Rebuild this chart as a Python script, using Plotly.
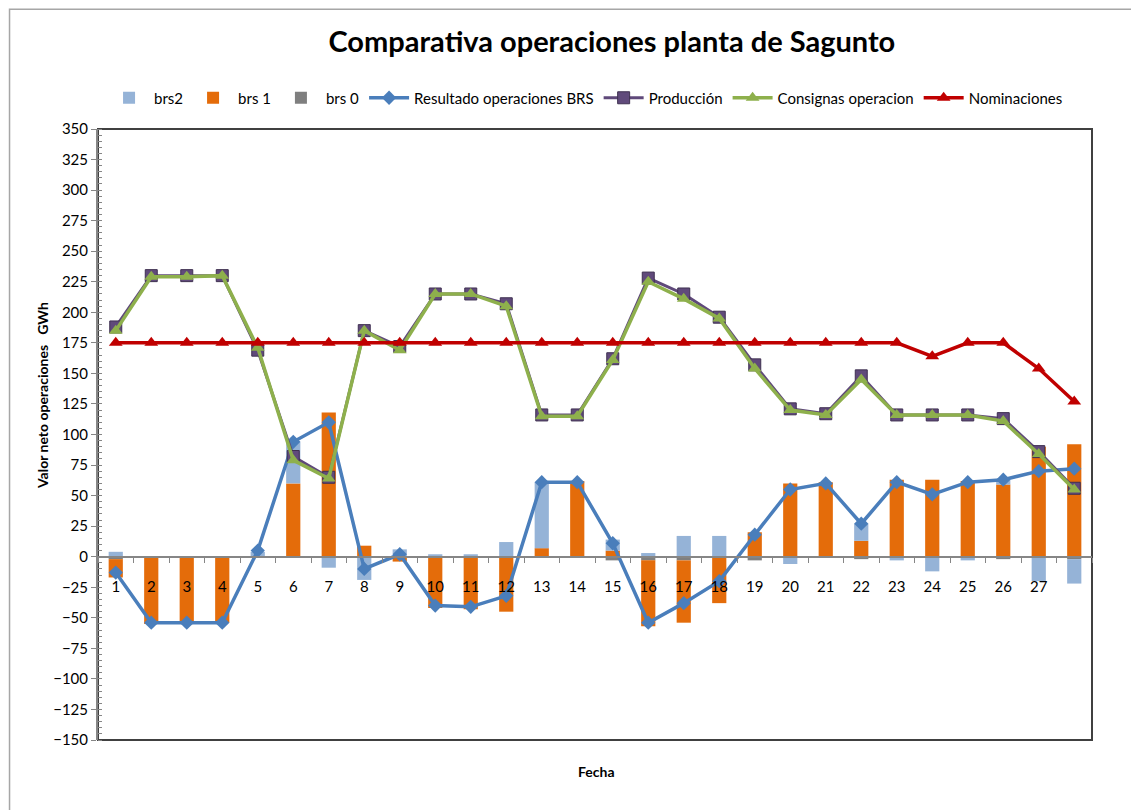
import plotly.graph_objects as go

# ─── Data ─────────────────────────────────────────────────────────────────────

cats = list(range(1, 29))
tick_labels = [str(i) for i in range(1, 28)] + [""]

brs2 = [4, 0, 0, 0, 4, 34, -9, -19, 6, 2, 2, 12, 54, -1, 9, 3, 17, 17, 0, -6,
        -1, 14, -3, -12, -3, 4, -20, -20]
brs1 = [-15, -55, -54, -54, 0, 60, 118, 9, -4, -42, -43, -44, 7, 62, 5, -54, -51, -38,
        20, 60, 61, 13, 63, 63, 62, 59, 90, 92]
brs0 = [-2, 0, 0, 0, 0, -1, 0, 0, 0, 0, 0, -1, 0, 0, -3, -3, -3, 0, -3, 0,
        0, -2, 0, 0, 0, -2, 0, -2]

resultado = [-13, -54, -54, -54, 5, 94, 110, -10, 2, -40, -41, -32, 61, 61, 11, -54, -38, -20,
             18, 55, 60, 27, 61, 51, 61, 63, 70, 72]
produccion = [188, 230, 230, 230, 169, 82, 65, 185, 172, 215, 215, 207, 116, 116, 162, 228, 215, 196,
              157, 121, 117, 148, 116, 116, 116, 113, 86, 56]
consignas = [185, 229, 229, 230, 171, 79, 64, 185, 169, 215, 215, 205, 115, 115, 161, 225, 211, 195,
             154, 120, 116, 145, 116, 116, 116, 111, 84, 55]
nominaciones = [175, 175, 175, 175, 175, 175, 175, 175, 175, 175, 175, 175, 175, 175, 175, 175, 175, 175,
                175, 175, 175, 175, 175, 164, 175, 175, 154, 127]

# ─── Style ────────────────────────────────────────────────────────────────────

FONT = "Lato, 'Liberation Sans', sans-serif"
AXIS_GREY = "#868686"

fig = go.Figure()

# stacking order from zero outwards: brs0, brs1, brs2 (legend shows brs2 first)
fig.add_trace(go.Bar(x=cats, y=brs0, name="brs 0", marker=dict(color="#7F7F7F", line_width=0),
                     legendrank=3))
fig.add_trace(go.Bar(x=cats, y=brs1, name="brs 1", marker=dict(color="#E46C0A", line_width=0),
                     legendrank=2))
fig.add_trace(go.Bar(x=cats, y=brs2, name="brs2", marker=dict(color="#95B3D7", line_width=0),
                     legendrank=1))

fig.add_trace(go.Scatter(
    x=cats, y=resultado, name="Resultado operaciones BRS", mode="lines+markers",
    line=dict(color="#4A7EBB", width=3.5),
    marker=dict(symbol="diamond", size=11, color="#4A7EBB"),
    legendrank=4,
))
fig.add_trace(go.Scatter(
    x=cats, y=produccion, name="Producción", mode="lines+markers",
    line=dict(color="#5F497A", width=3),
    marker=dict(symbol="square", size=12, color="#604A7B", line=dict(color="#3F3151", width=1)),
    legendrank=5,
))
fig.add_trace(go.Scatter(
    x=cats, y=consignas, name="Consignas operacion", mode="lines+markers",
    line=dict(color="#8EB04C", width=3.5),
    marker=dict(symbol="triangle-up", size=12, color="#8EB04C"),
    legendrank=6,
))
fig.add_trace(go.Scatter(
    x=cats, y=nominaciones, name="Nominaciones", mode="lines+markers",
    line=dict(color="#C00000", width=3.5),
    marker=dict(symbol="triangle-up", size=12, color="#C00000"),
    legendrank=7,
))

# x axis sits on the zero line (0 is 30% up a -150..350 range)
fig.update_xaxes(
    range=[0.5, 28.5], tickmode="array", tickvals=cats, ticktext=tick_labels,
    anchor="free", position=0.3, automargin=False,
    showline=True, linecolor=AXIS_GREY, linewidth=2,
    ticks="", ticklabelstandoff=16, showgrid=False, zeroline=False,
    tickfont=dict(size=15, color="#000000"),
    minor=dict(tick0=0.5, dtick=1, ticks="outside", ticklen=5, tickcolor=AXIS_GREY, showgrid=False),
)
fig.update_yaxes(
    range=[-150, 350], tick0=0, dtick=25, domain=[0, 1], automargin=False,
    showline=True, linecolor=AXIS_GREY, linewidth=2,
    ticks="outside", ticklen=5, tickcolor=AXIS_GREY, showgrid=False, zeroline=False,
    tickfont=dict(size=15, color="#000000"),
    minor=dict(dtick=5, ticks="inside", ticklen=4, tickcolor=AXIS_GREY, showgrid=False),
)

# the page body adds an 8px offset, so margins are trimmed on the left/top
fig.update_layout(
    barmode="relative",
    bargap=0.6,
    width=1139, height=810,
    margin=dict(l=90, r=55, t=121, b=78),
    paper_bgcolor="white", plot_bgcolor="white",
    font=dict(family=FONT, color="#000000", size=14),
    title=dict(text="<b>Comparativa operaciones planta de Sagunto</b>",
               x=0.517, xref="paper", xanchor="center", y=0.958, yanchor="middle",
               font=dict(size=29, family=FONT)),
    legend=dict(orientation="h", x=0.491, xanchor="center", y=1.0507, yanchor="middle",
                font=dict(size=15), bgcolor="rgba(0,0,0,0)", itemwidth=40, traceorder="normal"),
    showlegend=True,
    shapes=[
        # plot area frame
        dict(type="rect", xref="paper", yref="paper", x0=0, x1=1, y0=0, y1=1,
             line=dict(color="#404040", width=2), layer="below"),
        # outer chart frame
        dict(type="rect", xref="paper", yref="paper", x0=-0.089, x1=1.06, y0=-0.13, y1=1.196,
             line=dict(color="#A6A6A6", width=1.5), layer="below"),
    ],
    annotations=[
        dict(text="<b>Fecha</b>", xref="paper", yref="paper", x=0.502, y=-0.052,
             xanchor="center", yanchor="middle", showarrow=False, font=dict(size=14)),
        dict(text="<b>Valor neto operaciones   GWh</b>", xref="paper", yref="paper",
             x=-0.0563, y=0.563, xanchor="center", yanchor="middle", textangle=-90,
             showarrow=False, font=dict(size=14)),
    ],
)

fig.write_html("out.html")
